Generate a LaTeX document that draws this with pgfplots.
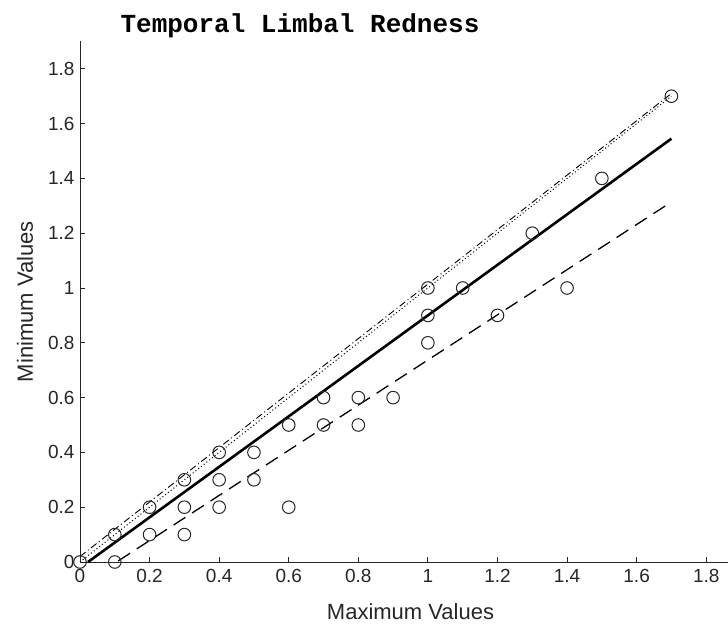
\documentclass[border=0pt]{standalone}
\usepackage{pgfplots}
\pgfplotsset{compat=1.18}
\usepackage{fontspec}
\setmainfont{Liberation Sans}
\newfontfamily\courier{Liberation Mono}
\begin{document}
\begin{tikzpicture}[x=1pt,y=1pt]
\useasboundingbox (0pt,0pt) rectangle (728pt,628pt);
\begin{axis}[
  at={(80pt,66pt)}, anchor=south west,
  scale only axis, width=661pt, height=520.6pt,
  xmin=0, xmax=1.9, ymin=0, ymax=1.9,
  axis x line=bottom, axis y line=left,
  axis line style={-, black!85, line width=0.8pt},
  xtick={0,0.2,...,1.8}, ytick={0,0.2,...,1.8},
  tick align=inside, major tick length=5pt,
  tick style={black!85, line width=0.8pt},
  /pgf/number format/assume math mode=true,
  /pgf/number format/fixed, /pgf/number format/precision=1,
  tick label style={font=\fontsize{19}{19}\selectfont, text=black!85},
  xticklabel style={yshift=-4pt},
  yticklabel style={xshift=-2pt},
  xlabel={Maximum Values}, ylabel={Minimum Values},
  label style={font=\fontsize{22}{22}\selectfont, text=black!85},
  xlabel style={at={(axis description cs:0.5,0)}, anchor=base, yshift=-58pt},
  ylabel style={at={(axis description cs:-0.0711,0.5)}, anchor=base},
  clip=false,
]
% identity (dotted)
\addplot[black, line width=1pt, dash pattern=on 1pt off 2.5pt] coordinates {(0,0) (1.7,1.7)};
% dash-dot
\addplot[black, line width=0.9pt, dash pattern=on 7pt off 3pt on 1pt off 3pt] coordinates {(0,0.02) (1.7,1.71)};
% solid regression
\addplot[black, line width=2.6pt] coordinates {(0.023,0) (1.7,1.545)};
% dashed
\addplot[black, line width=1.3pt, dash pattern=on 14pt off 8pt] coordinates {(0.11,0.004) (1.7,1.314)};
% data points
\addplot[only marks, mark=o, mark size=6.3pt, black!85, mark options={line width=1pt}] coordinates {
(0,0) (0.1,0.1) (0.1,0) (0.2,0.2) (0.2,0.1) (0.3,0.3) (0.3,0.2) (0.3,0.1)
(0.4,0.4) (0.4,0.3) (0.4,0.2) (0.5,0.4) (0.5,0.3) (0.6,0.5) (0.6,0.2)
(0.7,0.6) (0.7,0.5) (0.8,0.6) (0.8,0.5) (0.9,0.6) (1,1) (1,0.9) (1,0.8)
(1.1,1) (1.2,0.9) (1.3,1.2) (1.4,1) (1.5,1.4) (1.7,1.7)
};
\end{axis}
\node[anchor=base, font=\courier\bfseries\fontsize{26}{26}\selectfont] at (300pt,595pt) {Temporal Limbal Redness};
\end{tikzpicture}
\end{document}
